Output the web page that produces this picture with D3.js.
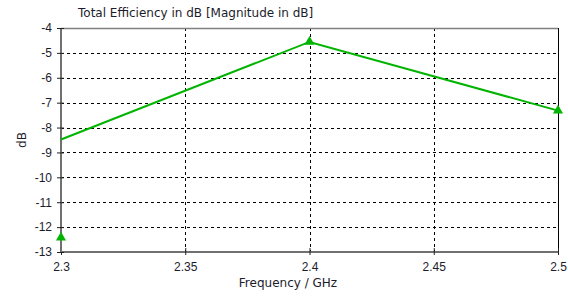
<!DOCTYPE html>
<html>
<head>
<meta charset="UTF-8">
<title>Total Efficiency</title>
<style>
  body { margin: 0; background: #fff; }
  svg { display: block; font-family: "DejaVu Sans", Verdana, sans-serif; }
  .grid line { stroke: #000; stroke-dasharray: 3,3; stroke-width: 1; }
  .tick text { fill: #1c1c2c; font-size: 12px; }
</style>
</head>
<body>
<script src="https://d3js.org/d3.v7.min.js"></script>
<script>
// curve values
var freqs = [2.3, 2.4, 2.5];
var effLine = [-8.48, -4.56, -7.32];
// marker values
var markerFreqs = [2.3, 2.4, 2.5];
var markerVals = [-12.42, -4.56, -7.32];
// tick labels
var xTicks = [2.3, 2.35, 2.4, 2.45, 2.5];
var yTicks = [-4, -5, -6, -7, -8, -9, -10, -11, -12, -13];

var W = 568, H = 296;
var margin = {top: 28, right: 10, bottom: 44, left: 61};
var width = 558 - margin.left;
var height = 252 - margin.top;

var svg = d3.select("body").append("svg")
    .attr("width", W).attr("height", H);

var g = svg.append("g")
    .attr("transform", "translate(" + margin.left + "," + margin.top + ")");

var x = d3.scaleLinear().domain([2.3, 2.5]).range([0, width]);
var y = d3.scaleLinear().domain([-13, -4]).range([height, 0]);

// grid
var grid = g.append("g").attr("class", "grid");
grid.selectAll(".gy").data(yTicks.slice(1, -1)).enter().append("line")
    .attr("x1", 0).attr("x2", width)
    .attr("y1", function(d) { return Math.round(y(d)) + 0.5; })
    .attr("y2", function(d) { return Math.round(y(d)) + 0.5; });
grid.selectAll(".gx").data(xTicks.slice(1, -1)).enter().append("line")
    .attr("y1", 0).attr("y2", height)
    .attr("x1", function(d) { return Math.round(x(d)) + 0.5; })
    .attr("x2", function(d) { return Math.round(x(d)) + 0.5; });

// frame
g.append("line").attr("x1", 0).attr("x2", width).attr("y1", 0.5).attr("y2", 0.5)
    .attr("stroke", "#808080").attr("stroke-width", 1.5);
g.append("line").attr("x1", width + 0.5).attr("x2", width + 0.5).attr("y1", 0).attr("y2", height)
    .attr("stroke", "#000").attr("stroke-width", 1);

// axes (plain hyphen minus like the original)
var xAxis = d3.axisBottom(x).tickValues(xTicks).tickSize(4).tickPadding(6)
    .tickFormat(function(d) { return String(+d.toFixed(2)); });
var yAxis = d3.axisLeft(y).tickValues(yTicks).tickSize(4).tickPadding(5)
    .tickFormat(function(d) { return String(d); });

var gx = g.append("g").attr("transform", "translate(0," + height + ")").call(xAxis);
gx.select(".domain").attr("stroke", "#707070").attr("stroke-width", 2)
    .attr("d", "M0,0H" + width);
gx.selectAll(".tick line").attr("stroke", "#202020").attr("y1", -4).attr("y2", 3);

var gy = g.append("g").call(yAxis);
gy.select(".domain").attr("stroke", "#707070").attr("stroke-width", 2)
    .attr("d", "M0,0V" + height);
gy.selectAll(".tick line").attr("stroke", "#202020").attr("x1", 3).attr("x2", -4);

// curve
var line = d3.line()
    .x(function(d, i) { return x(freqs[i]); })
    .y(function(d) { return y(d); });

g.append("path").datum(effLine)
    .attr("d", line)
    .attr("fill", "none")
    .attr("stroke", "#00b400")
    .attr("stroke-width", 2);

// markers
var tri = d3.symbol().type(d3.symbolTriangle).size(44);
g.selectAll(".mk").data(markerVals).enter().append("path")
    .attr("d", tri)
    .attr("fill", "#00b400")
    .attr("transform", function(d, i) {
        return "translate(" + x(markerFreqs[i]) + "," + y(d) + ")";
    });

// titles
svg.append("text").attr("x", 78).attr("y", 17)
    .attr("font-size", 12).attr("fill", "#1c1c2c")
    .text("Total Efficiency in dB [Magnitude in dB]");

svg.append("text").attr("x", 288).attr("y", 287)
    .attr("text-anchor", "middle")
    .attr("font-size", 12).attr("fill", "#1c1c2c")
    .text("Frequency / GHz");

svg.append("text")
    .attr("transform", "translate(26,140) rotate(-90)")
    .attr("text-anchor", "middle")
    .attr("font-size", 12).attr("fill", "#1c1c2c")
    .text("dB");
</script>
</body>
</html>
